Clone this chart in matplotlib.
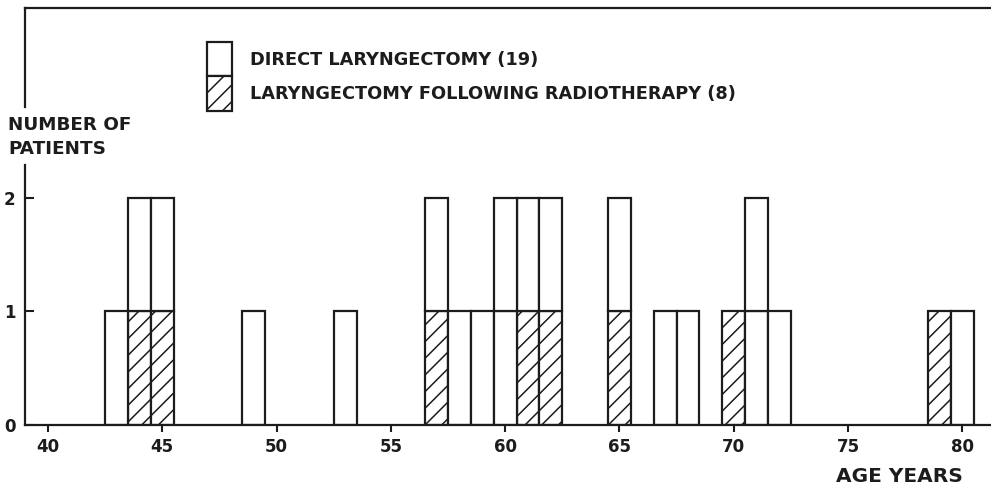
import matplotlib.pyplot as plt
from matplotlib.patches import Patch

# ages with laryngectomy after radiotherapy (one patient each)
radio_ages = [44, 45, 57, 61, 62, 65, 70, 79]
# direct laryngectomy: age -> number of patients
direct_ages = [43, 44, 45, 49, 53, 57, 58, 59, 60, 61, 62, 65, 67, 68, 71, 72, 80]
direct_counts = [1, 1, 1, 1, 1, 1, 1, 1, 2, 1, 1, 1, 1, 1, 2, 1, 1]
x_ticks = [40, 45, 50, 55, 60, 65, 70, 75, 80]
y_ticks = [0, 1, 2]

ink = '#1c1c1c'
plt.rcParams['font.family'] = 'DejaVu Sans'
plt.rcParams['font.weight'] = 'bold'
plt.rcParams['hatch.linewidth'] = 1.1
plt.rcParams['hatch.color'] = ink

fig = plt.figure(figsize=(9.91, 4.87), dpi=100)
ax = fig.add_axes([25 / 991, 62 / 487, 966 / 991, 417 / 487])

# hatched bars first (they sit at the bottom)
ax.bar(radio_ages, [1] * len(radio_ages), width=1, color='white',
       edgecolor=ink, linewidth=1.6, hatch='//')

# direct bars stacked on top, one box per patient
radio_count = {a: 1 for a in radio_ages}
for level in range(max(direct_counts)):
    xs = [a for a, c in zip(direct_ages, direct_counts) if c > level]
    bottoms = [radio_count.get(a, 0) + level for a in xs]
    ax.bar(xs, [1] * len(xs), bottom=bottoms, width=1, color='white',
           edgecolor=ink, linewidth=1.6)

ax.set_xlim(39, 81.25)
ax.set_ylim(0, 3.67)
ax.set_xticks(x_ticks)
ax.set_yticks(y_ticks)
ax.tick_params(axis='x', direction='out', length=5, width=1.5, pad=4,
               labelsize=12, colors=ink)
ax.tick_params(axis='y', direction='in', length=6.5, width=1.5, pad=7,
               labelsize=12, colors=ink)

for s in ['top', 'bottom', 'left']:
    ax.spines[s].set_color(ink)
    ax.spines[s].set_linewidth(1.6)
ax.spines['right'].set_visible(False)
# left axis is broken where the y label sits
ax.spines['left'].set_bounds(0, 2.29)
ax.plot([39, 39], [2.8, 3.67], color=ink, linewidth=1.6, clip_on=False)

fig.text(8 / 991, 1 - 137 / 487, 'NUMBER OF\nPATIENTS', fontsize=13.2,
         ha='left', va='center', linespacing=1.45, color=ink)
fig.text(899 / 991, 1 - 477 / 487, 'AGE YEARS', fontsize=14.5,
         ha='center', va='center', color=ink)

handles = [Patch(facecolor='white', edgecolor=ink, linewidth=1.6),
           Patch(facecolor='white', edgecolor=ink, linewidth=1.6, hatch='//')]
labels = ['DIRECT LARYNGECTOMY (19)',
          'LARYNGECTOMY FOLLOWING RADIOTHERAPY (8)']
fs = 12.8
fig.legend(handles, labels, loc='upper left',
           bbox_to_anchor=(207 / 991, 1 - 42 / 487), frameon=False,
           fontsize=fs, handlelength=25 / (fs * 100 / 72),
           handleheight=2.6, labelspacing=0, handletextpad=1.0,
           borderpad=0, borderaxespad=0, labelcolor=ink)

fig.savefig('out.png', dpi=100)
